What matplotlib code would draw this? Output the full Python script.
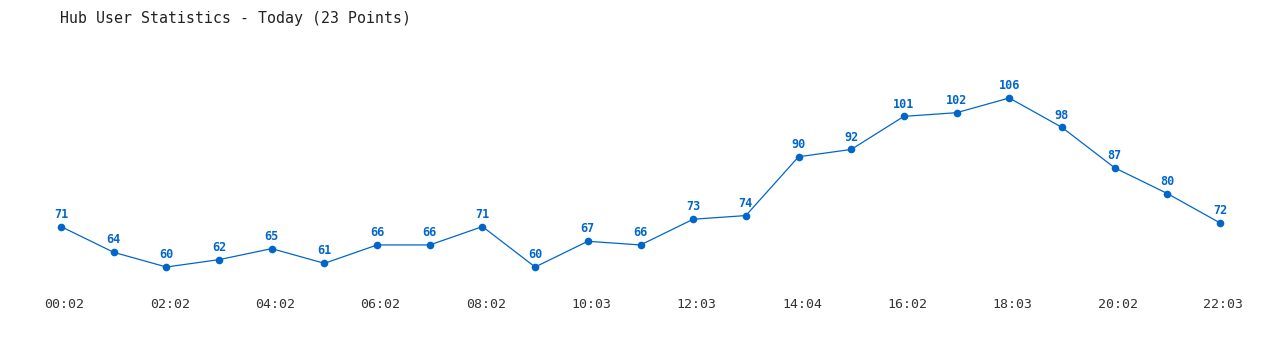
import matplotlib
matplotlib.use("Agg")
import matplotlib.pyplot as plt
from matplotlib.transforms import ScaledTranslation

# Hub user counts, one point per ~hour
times = ["00:02", "01:02", "02:02", "03:02", "04:02", "05:02", "06:02", "07:02",
         "08:02", "09:02", "10:03", "11:03", "12:03", "13:03", "14:04", "15:04",
         "16:02", "17:02", "18:03", "19:03", "20:02", "21:02", "22:03"]
users = [71, 64, 60, 62, 65, 61, 66, 66, 71, 60, 67, 66, 73, 74, 90, 92,
         101, 102, 106, 98, 87, 80, 72]

BLUE = "#0066cc"
MONO = ["DejaVu Sans Mono"]

fig = plt.figure(figsize=(12.8, 3.5), dpi=100)
ax = fig.add_axes([61 / 1280, 1 - 290 / 350, (1220 - 61) / 1280, 230 / 350])

xs = list(range(len(users)))
ax.plot(xs, users, color=BLUE, lw=0.9, marker="o", markersize=5.5,
        markeredgewidth=0, clip_on=False)

for x, v in zip(xs, users):
    ax.annotate(str(v), (x, v), xytext=(0, 4.2), textcoords="offset points",
                ha="center", va="bottom", color=BLUE, fontsize=8.5,
                fontweight="bold", family=MONO)

ax.set_xlim(0, len(users) - 1)
ax.set_ylim(53.74, 116.34)
ax.set_xticks(xs[::2])
ax.set_xticklabels(times[::2], family=MONO, fontsize=9.5, color="#333333")
ax.tick_params(axis="x", length=0, pad=5.5)
# labels in the original sit a few pixels right of their points
shift = ScaledTranslation(3.5 / 100, 0, fig.dpi_scale_trans)
for lbl in ax.get_xticklabels():
    lbl.set_transform(lbl.get_transform() + shift)
ax.set_yticks([])
for s in ax.spines.values():
    s.set_visible(False)

fig.text(60 / 1280, 1 - 18 / 350, "Hub User Statistics - Today (23 Points)",
         ha="left", va="center", fontsize=10.7, color="#222222", family=MONO)

fig.savefig("out.png", dpi=100)
